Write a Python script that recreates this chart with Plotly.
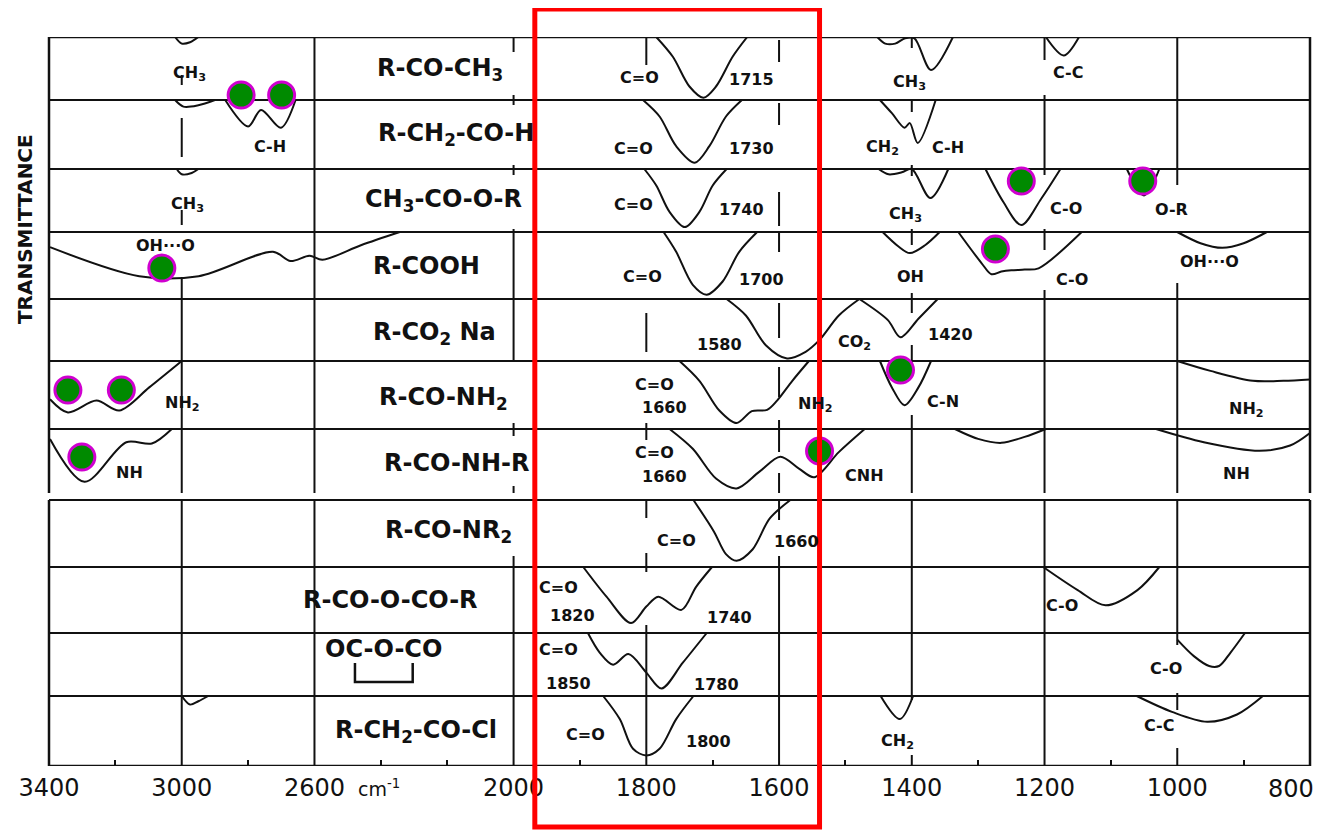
import plotly.graph_objects as go

# %% data: IR correlation chart of carbonyl compounds
# every band is (wavenumbers in cm-1, relative absorption depth as a fraction of a row)
compounds = [
    "R-CO-CH<sub>3</sub>",
    "R-CH<sub>2</sub>-CO-H",
    "CH<sub>3</sub>-CO-O-R",
    "R-COOH",
    "R-CO<sub>2</sub> Na",
    "R-CO-NH<sub>2</sub>",
    "R-CO-NH-R",
    "R-CO-NR<sub>2</sub>",
    "R-CO-O-CO-R",
    "OC-O-CO",
    "R-CH<sub>2</sub>-CO-Cl",
]
compound_nu = [2221, 2173, 2212, 2263, 2239, 2212, 2173, 2197, 2370, 2391, 2293]

ketone_bands = [
    ([3020, 3000, 2975, 2950], [0, 0.1, 0.08, 0]),
    ([1785, 1760, 1735, 1714, 1695, 1670, 1648], [0, 0.3, 0.75, 0.92, 0.75, 0.3, 0]),
    ([1452, 1440, 1425, 1410, 1396, 1371, 1338], [0, 0.1, 0.1, 0.02, 0.02, 0.5, 0]),
    ([1198, 1171, 1148], [0, 0.28, 0]),
]
aldehyde_bands = [
    ([3020, 2995, 2950, 2900], [0, 0.1, 0.08, 0]),
    ([2869, 2800, 2761, 2701, 2657], [0, 0.4, 0.15, 0.42, 0]),
    ([1805, 1780, 1755, 1727, 1705, 1680, 1656], [0, 0.25, 0.7, 0.95, 0.7, 0.25, 0]),
    ([1448, 1430, 1411, 1403, 1391, 1364], [0, 0.2, 0.42, 0.35, 0.65, 0]),
]
ester_bands = [
    ([3015, 3000, 2970, 2950], [0, 0.08, 0.06, 0]),
    ([1803, 1785, 1765, 1742, 1720, 1700, 1679], [0, 0.25, 0.65, 0.88, 0.65, 0.25, 0]),
    ([1450, 1435, 1415, 1400, 1372, 1345], [0, 0.08, 0.05, 0, 0.44, 0]),
    ([1289, 1262, 1235, 1205, 1176], [0, 0.5, 0.85, 0.45, 0]),
    ([1076, 1050, 1027], [0, 0.4, 0]),
]
acid_bands = [
    ([3397, 3128, 2949, 2725, 2672, 2615, 2576, 2460, 2343],
     [0.23, 0.67, 0.67, 0.3, 0.44, 0.36, 0.42, 0.2, 0]),
    ([1774, 1755, 1730, 1709, 1685, 1660, 1633], [0, 0.3, 0.8, 0.95, 0.75, 0.3, 0]),
    ([1444, 1420, 1403, 1380, 1358], [0, 0.22, 0.32, 0.2, 0]),
    ([1330, 1295, 1280, 1265, 1250, 1230, 1209, 1144], [0, 0.47, 0.64, 0.6, 0.58, 0.57, 0.55, 0]),
    ([1000, 965, 932, 900, 865], [0, 0.17, 0.24, 0.17, 0]),
]
carboxylate_bands = [
    ([1679, 1650, 1620, 1588, 1560, 1539, 1510, 1479], [0, 0.25, 0.7, 0.9, 0.8, 0.62, 0.25, 0]),
    ([1479, 1436, 1417, 1390, 1361], [0, 0.32, 0.58, 0.3, 0]),
]
amide_bands = [
    ([3397, 3343, 3257, 3188, 3098, 3000], [0.58, 0.78, 0.6, 0.75, 0.4, 0]),
    ([1750, 1720, 1690, 1664, 1641, 1618, 1603, 1580, 1555],
     [0, 0.3, 0.75, 0.94, 0.76, 0.74, 0.6, 0.3, 0]),
    ([1448, 1430, 1411, 1390, 1371], [0, 0.4, 0.67, 0.4, 0]),
    ([1000, 950, 886, 840, 800], [0, 0.15, 0.3, 0.3, 0.28]),
]
sec_amide_bands = [
    ([3397, 3293, 3167, 3090, 3030], [0.15, 0.8, 0.2, 0.22, 0]),
    ([1765, 1730, 1695, 1664, 1630, 1598, 1570, 1547, 1510, 1471],
     [0, 0.3, 0.75, 0.9, 0.65, 0.42, 0.6, 0.73, 0.35, 0]),
    ([1335, 1300, 1265, 1230, 1198], [0, 0.15, 0.21, 0.12, 0]),
    ([1032, 960, 876, 830, 800], [0, 0.2, 0.33, 0.25, 0.06]),
]
tert_amide_bands = [
    ([1729, 1698, 1680, 1664, 1640, 1614, 1583], [0, 0.48, 0.82, 0.92, 0.75, 0.28, 0]),
]
anhydride_bands = [
    ([1895, 1860, 1823, 1800, 1782, 1747, 1725, 1701], [0, 0.45, 0.85, 0.6, 0.45, 0.65, 0.3, 0]),
    ([1202, 1150, 1108, 1060, 1027], [0, 0.35, 0.58, 0.35, 0]),
]
cyclic_anhydride_bands = [
    ([1888, 1870, 1850, 1827, 1800, 1777, 1745, 1709], [0, 0.3, 0.48, 0.32, 0.6, 0.84, 0.45, 0]),
    ([1000, 975, 952, 937, 920, 898], [0.1, 0.35, 0.5, 0.5, 0.3, 0]),
]
acid_chloride_bands = [
    ([3000, 2975, 2950, 2920], [0, 0.13, 0.08, 0]),
    ([1865, 1840, 1820, 1800, 1780, 1755, 1729], [0, 0.35, 0.8, 0.9, 0.8, 0.35, 0]),
    ([1447, 1418, 1398], [0, 0.35, 0]),
    ([1061, 1008, 955, 910, 871], [0, 0.24, 0.39, 0.28, 0]),
]

# band annotations: (text, wavenumber, offset below the row top)
ketone_labels = [("CH<sub>3</sub>", 2976, 36), ("C=O", 1811, 40), ("1715", 1641, 42),
                 ("CH<sub>3</sub>", 1403, 45), ("C-C", 1164, 35)]
aldehyde_labels = [("C-H", 2734, 46), ("C=O", 1820, 48), ("1730", 1641, 48),
                   ("CH<sub>2</sub>", 1444, 47), ("C-H", 1345, 47)]
ester_labels = [("CH<sub>3</sub>", 2982, 35), ("C=O", 1820, 35), ("1740", 1656, 40),
                ("CH<sub>3</sub>", 1409, 45), ("C-O", 1168, 39), ("O-R", 1009, 40)]
acid_labels = [("OH···O", 3048, 13), ("C=O", 1805, 44), ("1700", 1626, 47),
               ("OH", 1402, 44), ("C-O", 1159, 47), ("OH···O", 952, 29)]
carboxylate_labels = [("1580", 1689, 45), ("CO<sub>2</sub>", 1486, 43), ("1420", 1341, 35)]
amide_labels = [("NH<sub>2</sub>", 2997, 42), ("C=O", 1788, 23), ("1660", 1773, 46),
                ("NH<sub>2</sub>", 1545, 43), ("C-N", 1353, 40), ("NH<sub>2</sub>", 895, 48)]
sec_amide_labels = [("NH", 3158, 43), ("C=O", 1788, 23), ("1660", 1773, 47),
                    ("CNH", 1471, 46), ("NH", 911, 44)]
tert_amide_labels = [("C=O", 1755, 40), ("1660", 1573, 41)]
anhydride_labels = [("C=O", 1932, 20), ("1820", 1911, 48), ("1740", 1674, 50), ("C-O", 1174, 38)]
cyclic_anhydride_labels = [("C=O", 1932, 16), ("1850", 1917, 50), ("1780", 1694, 51),
                           ("C-O", 1017, 35)]
acid_chloride_labels = [("C=O", 1891, 38), ("1800", 1706, 45), ("CH<sub>2</sub>", 1421, 45),
                        ("C-C", 1027, 29)]

# highlighted bands (green dots): row, wavenumber, offset below the row top
dot_row = [1, 1, 3, 2, 2, 3, 5, 5, 5, 6, 6]
dot_nu = [2821, 2699, 3060, 1235, 1052, 1274, 3343, 3182, 1417, 3301, 1539]
dot_offset = [-5, -5, 36, 12, 12, 17, 29, 29, 9, 28, 22]

# highlighted window (red box), cm-1
box_nu = [1968, 1539]

major_ticks_high = [3400, 3000, 2600]
major_ticks_low = [2000, 1800, 1600, 1400, 1200, 1000, 800]
minor_ticks_high = [3200, 2800, 2400, 2200]
minor_ticks_low = [1900, 1700, 1500, 1300, 1100, 900]

# %% chart geometry (reference pixel units on the y axis)
ROW_TOP = [37, 100, 169, 232, 299, 361, 429, 500, 567, 633, 696, 766]
ROW_H = 66
Y_TOP, Y_BOT = 37, 766
SPLIT = 2000  # scale doubles below 2000 cm-1
INK = "#111111"
FONT = "DejaVu Sans"
PAGE_PAD = 8  # browser body margin around the figure

# grid segments (y from, y to) for each vertical line of the original chart
VLINES = {
    3400: [(37, 493), (500, 766)],
    3000: [(75, 85), (118, 157), (210, 225), (277, 493), (500, 766)],
    2600: [(37, 493), (500, 766)],
    2000: [(37, 52), (95, 105), (165, 175), (229, 361), (423, 436), (486, 493), (556, 766)],
    1800: [(37, 65), (313, 352), (423, 440), (500, 518), (553, 572), (625, 766)],
    1600: [(40, 62), (103, 125), (192, 226), (233, 252), (303, 338), (367, 397),
           (420, 452), (473, 493), (500, 520), (556, 766)],
    1400: [(37, 48), (100, 112), (165, 176), (229, 245), (293, 313), (345, 368),
           (415, 493), (500, 700), (755, 766)],
    1200: [(37, 60), (95, 175), (229, 250), (290, 493), (500, 766)],
    1000: [(37, 185), (283, 493), (500, 645), (693, 710), (748, 766)],
    800: [(37, 493), (500, 766)],
}


def axis_of(nu):
    return "x" if max(nu) > SPLIT else "x2"


split_frac = (3400 - SPLIT) / 2 / ((3400 - SPLIT) / 2 + (SPLIT - 800))
edge_paper = {3400: 0.0, SPLIT: split_frac, 800: 1.0}

row_bands = [ketone_bands, aldehyde_bands, ester_bands, acid_bands, carboxylate_bands,
             amide_bands, sec_amide_bands, tert_amide_bands, anhydride_bands,
             cyclic_anhydride_bands, acid_chloride_bands]
row_labels = [ketone_labels, aldehyde_labels, ester_labels, acid_labels, carboxylate_labels,
              amide_labels, sec_amide_labels, tert_amide_labels, anhydride_labels,
              cyclic_anhydride_labels, acid_chloride_labels]
compound_offset = [32, 34, 31, 34, 34, 37, 34, 31, 33, 16, 35]

fig = go.Figure()

for r, (bands, labels) in enumerate(zip(row_bands, row_labels)):
    top = ROW_TOP[r]
    for nu, depth in bands:
        fig.add_scatter(
            x=nu, y=[top + d * ROW_H for d in depth], xaxis=axis_of(nu), yaxis="y",
            mode="lines", line=dict(color=INK, width=2, shape="spline", smoothing=0.9),
            hoverinfo="skip", showlegend=False,
        )
    for text, nu, off in labels:
        fig.add_annotation(
            text=text, x=nu, y=top + off, xref=axis_of([nu]), yref="y",
            showarrow=False, font=dict(size=16, color=INK, family=FONT, weight="bold"),
        )
    fig.add_annotation(
        text=compounds[r], x=compound_nu[r], y=top + compound_offset[r], xref="x", yref="y",
        showarrow=False, font=dict(size=24, color=INK, family=FONT, weight="bold"),
    )

# bracket under the cyclic anhydride formula
fig.add_shape(
    type="path", xref="x", yref="y", line=dict(color=INK, width=2.5),
    path=f"M 2478 {ROW_TOP[9] + 30} L 2478 {ROW_TOP[9] + 49} "
    f"L 2304 {ROW_TOP[9] + 49} L 2304 {ROW_TOP[9] + 30}",
)

# green highlight dots, one trace per scale
for ax in ("x", "x2"):
    pts = [(n, ROW_TOP[r] + o) for r, n, o in zip(dot_row, dot_nu, dot_offset)
           if axis_of([n]) == ax]
    fig.add_scatter(
        x=[p[0] for p in pts], y=[p[1] for p in pts], xaxis=ax, yaxis="y", mode="markers",
        marker=dict(size=26, color="#008a00", line=dict(color="#d000d0", width=3)),
        hoverinfo="skip", showlegend=False,
    )

# row separators
for k, y in enumerate(ROW_TOP):
    fig.add_shape(type="line", xref="paper", yref="y", x0=0, x1=1, y0=y, y1=y,
                  line=dict(color=INK, width=2.5 if k in (0, 11) else 2), layer="below")

# vertical grid pieces (frame edges and the scale break go by paper so they are not clipped)
for nu, segs in VLINES.items():
    for y0, y1 in segs:
        if nu in edge_paper:
            xref, xv = "paper", edge_paper[nu]
        else:
            xref, xv = axis_of([nu]), nu
        fig.add_shape(type="line", xref=xref, yref="y", x0=xv, x1=xv, y0=y0, y1=y1,
                      line=dict(color=INK, width=2.5 if nu in (3400, 800) else 2),
                      layer="below")

# red highlight window
to_paper = lambda p: (Y_BOT - p) / (Y_BOT - Y_TOP)
fig.add_shape(type="rect", xref="x2", yref="paper", x0=box_nu[0], x1=box_nu[1],
              y0=to_paper(827), y1=to_paper(9), line=dict(color="#ff0000", width=5))

fig.add_annotation(text="<b>TRANSMITTANCE</b>", textangle=-90, xref="paper", yref="y",
                   x=-0.019, y=229, xanchor="center", yanchor="middle", showarrow=False,
                   font=dict(size=20, color=INK, family=FONT))
fig.add_annotation(text="cm<sup>-1</sup>", xref="x", yref="paper", x=2405, y=to_paper(774),
                   yanchor="top", showarrow=False, font=dict(size=19, color=INK, family=FONT))

# the last tick label sits inside the frame edge, as in the original
low_ticktext = [str(v) for v in major_ticks_low]
low_ticktext[-1] = ""
fig.add_annotation(text=str(major_ticks_low[-1]), xref="x2", yref="paper",
                   x=major_ticks_low[-1], y=to_paper(773), xanchor="right", yanchor="top",
                   xshift=6, showarrow=False, font=dict(size=24, color=INK, family=FONT))

axis_common = dict(showgrid=False, zeroline=False, showline=False, ticks="", automargin=False,
                   ticklabelstandoff=5,
                   tickfont=dict(size=24, color=INK, family=FONT), anchor="y")
fig.update_layout(
    width=1324 - PAGE_PAD, height=832 - PAGE_PAD,
    margin=dict(l=49 - PAGE_PAD, r=14, t=37 - PAGE_PAD, b=66, autoexpand=False),
    paper_bgcolor="white", plot_bgcolor="white",
    xaxis=dict(domain=[0, split_frac], range=[3400, SPLIT], tickvals=major_ticks_high,
               ticktext=[str(v) for v in major_ticks_high], ticklabeloverflow="allow",
               minor=dict(tickvals=minor_ticks_high, ticks="inside", ticklen=6,
                          tickwidth=2, tickcolor=INK),
               **axis_common),
    xaxis2=dict(domain=[split_frac, 1], range=[SPLIT, 800], tickvals=major_ticks_low,
                ticktext=low_ticktext,
                minor=dict(tickvals=minor_ticks_low, ticks="inside", ticklen=6,
                           tickwidth=2, tickcolor=INK),
                **axis_common),
    yaxis=dict(range=[Y_BOT, Y_TOP], showgrid=False, zeroline=False, showline=False,
               showticklabels=False, ticks="", anchor="x", automargin=False),
)

fig.write_html("out.html")
